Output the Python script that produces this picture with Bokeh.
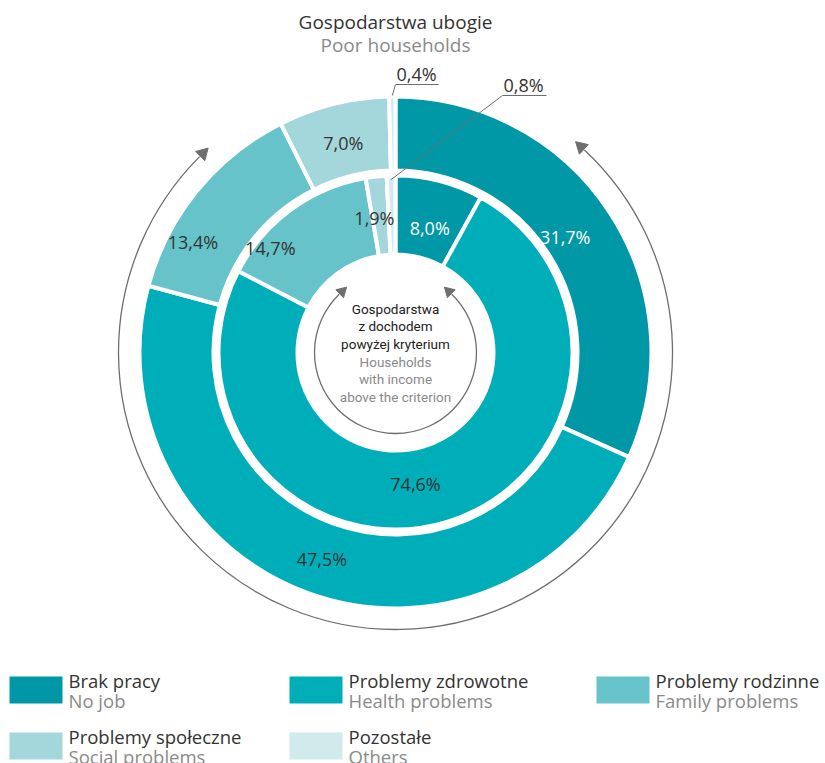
import math
from bokeh.plotting import figure
from bokeh.models import Range1d, ColumnDataSource
from bokeh.core.properties import value
from bokeh.embed import file_html
from bokeh.resources import INLINE

# ---------------- data ----------------
cats_pl = ["Brak pracy", "Problemy zdrowotne", "Problemy rodzinne", "Problemy społeczne", "Pozostałe"]
cats_en = ["No job", "Health problems", "Family problems", "Social problems", "Others"]
poor = [31.7, 47.5, 13.4, 7.0, 0.4]        # outer ring: Gospodarstwa ubogie / Poor households
above = [8.0, 74.6, 14.7, 1.9, 0.8]        # inner ring: households with income above the criterion
colors = ["#0098A6", "#00AEB9", "#66C3C9", "#A3D7DB", "#D1EBED"]
label_colors_outer = ["white", "#333333", "#333333", "#333333", "#333333"]
label_colors_inner = ["white", "#333333", "#333333", "#333333", "#333333"]

title_pl = "Gospodarstwa ubogie"
title_en = "Poor households"
center_pl = ["Gospodarstwa", "z dochodem", "powyżej kryterium"]
center_en = ["Households", "with income", "above the criterion"]

# ---------------- layout ----------------
W, H = 825, 763
CX, CY_S = 395, 352          # chart centre in screen px
R_OUT_O, R_OUT_I = 256, 182  # outer ring radii
R_IN_O, R_IN_I = 177, 98     # inner ring radii
FONT = "Open Sans"
NARROW = "Roboto"
DARK = "#333333"
GREY = "#8a8a8a"
ARROW = "#6e6e6e"


def Y(ys):
    return H - ys


CY = Y(CY_S)

p = figure(width=W, height=H, x_range=Range1d(0, W), y_range=Range1d(0, H),
           output_backend="svg", toolbar_location=None, min_border=0)
p.axis.visible = False
p.grid.visible = False
p.outline_line_color = None
p.background_fill_color = "white"
p.border_fill_color = "white"


def fmt(v):
    return f"{v:.1f}".replace(".", ",") + "%"


def ring(vals, r_in, r_out):
    tot = sum(vals)
    cum = 0.0
    starts, ends, mids = [], [], []
    for v in vals:
        a0 = cum / tot * 360.0
        cum += v
        a1 = cum / tot * 360.0
        starts.append(math.radians(90 - a0))
        ends.append(math.radians(90 - a1))
        mids.append((a0 + a1) / 2)
    src = ColumnDataSource(dict(s=starts, e=ends, c=colors))
    p.annular_wedge(x=CX, y=CY, inner_radius=r_in, outer_radius=r_out,
                    start_angle="s", end_angle="e", direction="clock",
                    fill_color="c", line_color="white", line_width=4, source=src)
    return mids


mids_o = ring(poor, R_OUT_I, R_OUT_O)
mids_i = ring(above, R_IN_I, R_IN_O)


def polar(theta_deg, r):
    t = math.radians(theta_deg)
    return CX + r * math.sin(t), CY + r * math.cos(t)


# label nudges (screen px) for legibility, as in the reference
nudge_o = {0: (-14, -4), 2: (-33, -28), 3: (1, -3)}
nudge_i = {0: (0, -9), 1: (-20, 0), 2: (-44, -6), 3: (-6, -2)}

LBL = "18px"
lx, ly, lt, lc = [], [], [], []
for i in range(4):
    x, y = polar(mids_o[i], (R_OUT_I + R_OUT_O) / 2)
    dx, dy = nudge_o.get(i, (0, 0))
    lx.append(x + dx); ly.append(y + dy); lt.append(fmt(poor[i])); lc.append(label_colors_outer[i])
for i in range(4):
    x, y = polar(mids_i[i], (R_IN_I + R_IN_O) / 2)
    dx, dy = nudge_i.get(i, (0, 0))
    lx.append(x + dx); ly.append(y + dy); lt.append(fmt(above[i])); lc.append(label_colors_inner[i])
p.text(x=lx, y=ly, text=lt, text_color=lc, text_font=value(FONT), text_font_size=LBL,
       text_align="center", text_baseline="middle")

# leader lines for the tiny slices
x0, y0 = polar(mids_o[4], R_OUT_O)
p.line([x0, 395, 438], [y0 + 1, Y(84), Y(84)], line_color=ARROW, line_width=1)
p.text(x=[416], y=[Y(73)], text=[fmt(poor[4])], text_color=DARK, text_font=value(FONT),
       text_font_size=LBL, text_align="center", text_baseline="middle")
x1, y1 = polar(mids_i[4], R_IN_O - 4)
p.line([x1, 502, 546], [y1, Y(95), Y(95)], line_color=ARROW, line_width=1)
p.text(x=[523], y=[Y(84)], text=[fmt(above[4])], text_color=DARK, text_font=value(FONT),
       text_font_size=LBL, text_align="center", text_baseline="middle")


# curved arrows
def curved_arrow(r, left_deg, right_deg, size):
    p.arc(x=CX, y=CY, radius=r, start_angle=math.radians(left_deg), end_angle=math.radians(right_deg),
          direction="anticlock", line_color=ARROW, line_width=1.3)
    # left end heads clockwise (towards top), right end heads anticlockwise
    for phi, dirang, rot in ((left_deg, left_deg - 90, left_deg - 180), (right_deg, right_deg + 90, right_deg)):
        ex = CX + r * math.cos(math.radians(phi))
        ey = CY + r * math.sin(math.radians(phi))
        off = size * 0.35
        ex += off * math.cos(math.radians(dirang))
        ey += off * math.sin(math.radians(dirang))
        p.scatter(x=[ex], y=[ey], marker="triangle", size=size, angle=math.radians(rot),
                  fill_color=ARROW, line_color=ARROW)


curved_arrow(277, 135, 47, 13)
curved_arrow(81, 134, 46, 11)

# titles
p.text(x=[CX], y=[Y(21)], text=[title_pl], text_color=DARK, text_font=value(FONT),
       text_font_size="19px", text_align="center", text_baseline="middle")
p.text(x=[CX], y=[Y(44)], text=[title_en], text_color=GREY, text_font=value(FONT),
       text_font_size="19px", text_align="center", text_baseline="middle")

# centre text
cy_lines = [308, 325.5, 343, 361, 378.5, 396]
p.text(x=[CX] * 3, y=[Y(v) for v in cy_lines[:3]], text=center_pl, text_color="#222222",
       text_font=value(NARROW), text_font_size="13.5px", text_align="center", text_baseline="middle")
p.text(x=[CX] * 3, y=[Y(v) for v in cy_lines[3:]], text=center_en, text_color=GREY,
       text_font=value(NARROW), text_font_size="13.5px", text_align="center", text_baseline="middle")

# legend
col_x = [9, 289, 596]
row_y = [689.5, 745.5]
sx, sy, tx, ty1, ty2 = [], [], [], [], []
for i in range(len(cats_pl)):
    c, r = i % 3, i // 3
    sx.append(col_x[c] + 26.5)
    sy.append(Y(row_y[r]))
    tx.append(col_x[c] + 59)
    ty1.append(Y(row_y[r] - 10))
    ty2.append(Y(row_y[r] + 10.5))
p.rect(x=sx, y=sy, width=53, height=27, fill_color=colors, line_color=None)
p.text(x=tx, y=ty1, text=cats_pl, text_color=DARK, text_font=value(FONT), text_font_size="18.5px",
       text_align="left", text_baseline="middle")
p.text(x=tx, y=ty2, text=cats_en, text_color=GREY, text_font=value(FONT), text_font_size="18.5px",
       text_align="left", text_baseline="middle")

open("out.html", "w").write(file_html(p, INLINE))
